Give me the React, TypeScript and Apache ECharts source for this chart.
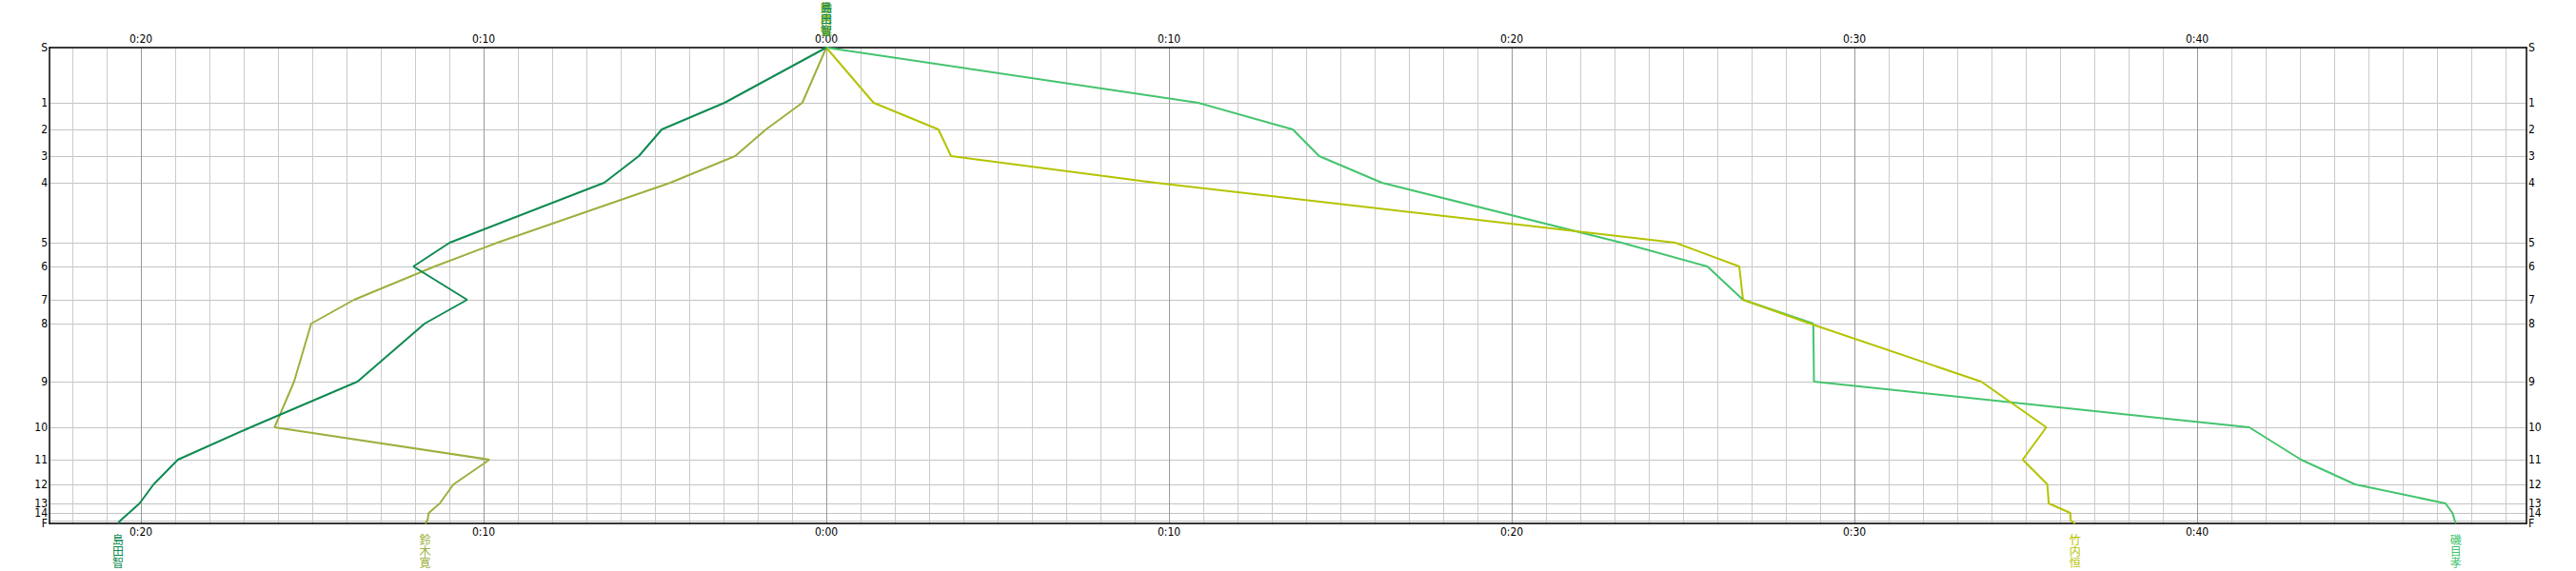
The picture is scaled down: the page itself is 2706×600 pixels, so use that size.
import React, { useEffect, useRef } from "react";
import * as echarts from "echarts";

// Stations (top to bottom) and their course distance (arbitrary units)
const STATIONS = ["S", "1", "2", "3", "4", "5", "6", "7", "8", "9", "10", "11", "12", "13", "14", "15", "F"];
const STATION_DIST = [0, 58, 86, 114, 142, 205, 230, 265, 290, 351, 399, 433, 459, 479, 489, 497, 500];

// Time (minutes) at each station; negative values are plotted to the left of 0:00
const ISOME = [0, 10.85, 13.61, 14.38, 16.21, 23.2, 25.71, 26.75, 28.8, 28.82, 41.52, 43.03, 44.61, 47.25, 47.45, 47.52, 47.55];
const TAKEUCHI = [0, 1.38, 3.27, 3.64, 9.6, 24.77, 26.64, 26.75, 28.7, 33.7, 35.6, 34.91, 35.63, 35.67, 36.3, 36.31, 36.44];
const SUZUKI = [0, -0.7, -1.76, -2.66, -4.55, -9.6, -11.43, -13.78, -15.03, -15.53, -16.1, -9.83, -10.88, -11.28, -11.6, -11.64, -11.71];
const SHIMADA = [0, -2.97, -4.8, -5.47, -6.48, -10.99, -12.05, -10.48, -11.72, -13.68, -16.8, -18.92, -19.63, -20.04, -20.35, -20.6, -20.67];

const RUNNERS = ["磯目孝", "竹内恒", "鈴木寛", "島田智"];
const RUNNER_TIMES = [ISOME, TAKEUCHI, SUZUKI, SHIMADA];
const RUNNER_COLORS = ["#44c46e", "#b4c300", "#9db03e", "#0f8a52"];

// X axis range and ticks (minutes)
const X_MIN = -22.667;
const X_MAX = 49.611;
const MAJOR_TICKS = [-20, -10, 0, 10, 20, 30, 40];
const MINOR_TICKS: number[] = [];
for (let m = -22; m <= 49; m++) MINOR_TICKS.push(m);

const fmtTime = (v: number) => {
  const a = Math.round(Math.abs(v));
  return `${Math.floor(a / 60)}:${String(a % 60).padStart(2, "0")}`;
};
const fmtStation = (v: number) => {
  const i = STATION_DIST.indexOf(Math.round(v));
  return i >= 0 ? STATIONS[i] : "";
};

const LABEL_FONT = "'Liberation Sans Narrow', 'DejaVu Sans Condensed', 'Liberation Sans', sans-serif";
const CJK_FONT = "'Noto Sans CJK JP', sans-serif";

export default function App() {
  const ref = useRef<HTMLDivElement>(null);
  useEffect(() => {
    document.body.style.margin = "0";
    document.body.style.overflow = "hidden";
    if (!ref.current) return;
    const chart = echarts.init(ref.current, undefined, { renderer: "svg" });

    const xBase = (pos: "top" | "bottom", ticks: number[], color: string) => ({
      type: "value",
      position: pos,
      min: X_MIN,
      max: X_MAX,
      axisLine: { show: true, onZero: false, lineStyle: { color: "#000", width: 1.5 } },
      axisTick: { show: false, customValues: ticks },
      axisLabel: {
        show: true,
        customValues: MAJOR_TICKS,
        formatter: fmtTime,
        color: "#000",
        fontSize: 12,
        fontFamily: LABEL_FONT,
        margin: 3,
      },
      splitLine: { show: true, lineStyle: { color, width: 1 } },
    });

    const yBase = (pos: "left" | "right", showSplit: boolean) => ({
      type: "value",
      position: pos,
      inverse: true,
      min: 0,
      max: 500,
      axisLine: { show: true, onZero: false, lineStyle: { color: "#000", width: 1.5 } },
      axisTick: { show: false, customValues: STATION_DIST },
      axisLabel: {
        show: true,
        customValues: STATION_DIST,
        formatter: fmtStation,
        color: "#000",
        fontSize: 12,
        fontFamily: LABEL_FONT,
        margin: 2,
        showMinLabel: true,
        showMaxLabel: true,
      },
      splitLine: { show: showSplit, lineStyle: { color: "#c4c4c4", width: 1 } },
    });

    const series = RUNNERS.map((name, i) => {
      const times = RUNNER_TIMES[i];
      const data = times.map((t, k) => [t, STATION_DIST[k]]);
      const last = data.length - 1;
      const vert = name.split("").join("\n");
      const lbl = (pos: string, dist: number) => ({
        show: true,
        position: pos,
        distance: dist,
        formatter: vert,
        color: RUNNER_COLORS[i],
        fontSize: 12,
        lineHeight: 12,
        fontFamily: CJK_FONT,
      });
      return {
        type: "line",
        name,
        xAxisIndex: 0,
        yAxisIndex: 0,
        data,
        showSymbol: false,
        symbol: "none",
        lineStyle: { color: RUNNER_COLORS[i], width: 2 },
        itemStyle: { color: RUNNER_COLORS[i] },
        silent: true,
        markPoint: {
          symbol: "circle",
          symbolSize: 1,
          silent: true,
          itemStyle: { color: "rgba(0,0,0,0)" },
          data: [
            { coord: data[0], label: lbl("top", 12) },
            { coord: data[last], label: lbl("bottom", 10) },
          ],
        },
      };
    });

    chart.setOption({
      animation: false,
      backgroundColor: "#fff",
      grid: { left: 52, right: 52, top: 50, bottom: 50, containLabel: false },
      xAxis: [xBase("top", MINOR_TICKS, "#cbcbcb"), xBase("bottom", MAJOR_TICKS, "#9a9a9a")],
      yAxis: [yBase("left", true), yBase("right", false)],
      series,
    });
    return () => chart.dispose();
  }, []);
  return <div ref={ref} style={{ width: 2706, height: 600 }} />;
}
